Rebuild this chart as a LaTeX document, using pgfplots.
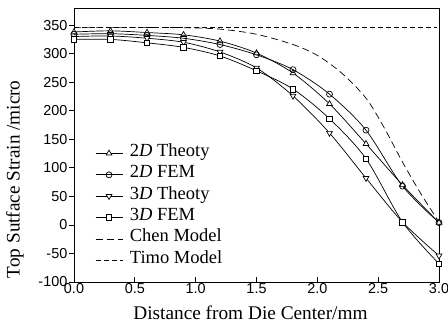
\documentclass[border=0pt]{standalone}
\usepackage{fontspec}
\setmainfont{Liberation Serif}
\newfontfamily\arialfont{Liberation Sans}
\usepackage{pgfplots}
\pgfplotsset{compat=1.18}
\begin{document}
\begin{tikzpicture}
\begin{axis}[name=ax,
  scale only axis, width=365pt, height=274pt,
  xmin=0, xmax=3, ymin=-100, ymax=380,
  xtick={0,0.5,...,3}, ytick={-100,-50,...,350},
  xticklabel style={/pgf/number format/fixed, /pgf/number format/fixed zerofill, /pgf/number format/precision=1, inner sep=1pt},
  yticklabel style={inner sep=1.5pt, xshift=-5pt},
  /pgf/number format/assume math mode=true,
  tick label style={font=\arialfont\fontsize{14.4}{16}\selectfont},
  tick align=inside, major tick length=5pt,
  xtick pos=bottom, ytick pos=left,
  y tick style={xshift=-5pt},
  axis line style={line width=0.8pt},
  every tick/.style={black, line width=0.7pt},
  xlabel={Distance from Die Center/mm},
  ylabel={Top Sutface Strain /micro},
  xlabel style={font=\fontsize{19.3}{22}\selectfont, at={(axis description cs:0.5,0)}, anchor=base, yshift=-37pt, xshift=-6pt},
  ylabel style={font=\fontsize{19.2}{22}\selectfont, at={(axis description cs:-0.1616,0.375)}, anchor=center},
  legend style={at={(axis description cs:0.0575,0.509)}, anchor=north west, draw=none, fill=none, inner sep=0pt,
    font=\fontsize{18.5}{21}\selectfont, row sep=0pt, column sep=7pt,
    nodes={inner sep=0pt, text height=13.5pt, text depth=7.9pt}},
  legend cell align=left,
  legend image code/.code={\draw[mark repeat=2,mark phase=2] plot coordinates {(0pt,0pt)(13.5pt,0pt)(27pt,0pt)};},
  every axis plot/.append style={black, line width=0.7pt},
]
\addplot[smooth, mark=triangle*, mark size=3.3pt, mark options={fill=white, solid}] coordinates {
(0,338)(0.3,340)(0.6,337)(0.9,333)(1.2,322)(1.5,301)(1.8,266)(2.1,212)(2.4,142)(2.7,70)(3.0,4)};
\addlegendentry{2\textit{D} Theoty}
\addplot[smooth, mark=o, mark size=3pt, mark options={fill=white, solid}] coordinates {
(0,334)(0.3,335)(0.6,332)(0.9,327)(1.2,316)(1.5,298)(1.8,272)(2.1,229)(2.4,166)(2.7,68)(3.0,4)};
\addlegendentry{2\textit{D} FEM}
\addplot[smooth, mark=triangle*, mark size=3.3pt, mark options={fill=white, solid, rotate=180}] coordinates {
(0,330)(0.3,331)(0.6,327)(0.9,320)(1.2,303)(1.5,275)(1.8,226)(2.1,161)(2.4,82)(2.7,5)(3.0,-54)};
\addlegendentry{3\textit{D} Theoty}
\addplot[smooth, mark=square*, mark size=2.8pt, mark options={fill=white, solid}] coordinates {
(0,325)(0.3,325)(0.6,319)(0.9,311)(1.2,296)(1.5,270)(1.8,238)(2.1,186)(2.4,116)(2.7,5)(3.0,-68)};
\addlegendentry{3\textit{D} FEM}
\addplot[smooth, dash pattern=on 7pt off 4pt] coordinates {
(0,346)(0.6,346)(0.9,345.5)(1.2,343)(1.5,334)(1.8,316)(2.0,297)(2.2,266)(2.4,222)(2.55,170)(2.7,110)(2.85,55)(3.0,5)};
\addlegendentry{Chen Model}
\addplot[dash pattern=on 5pt off 3pt] coordinates {(0,346)(2.98,346)};
\addlegendentry{Timo Model}
\end{axis}
\pgfresetboundingbox
\path[use as bounding box] ([shift={(-74pt,-46pt)}]ax.south west) rectangle ([shift={(9pt,8pt)}]ax.north east);
\end{tikzpicture}
\end{document}
